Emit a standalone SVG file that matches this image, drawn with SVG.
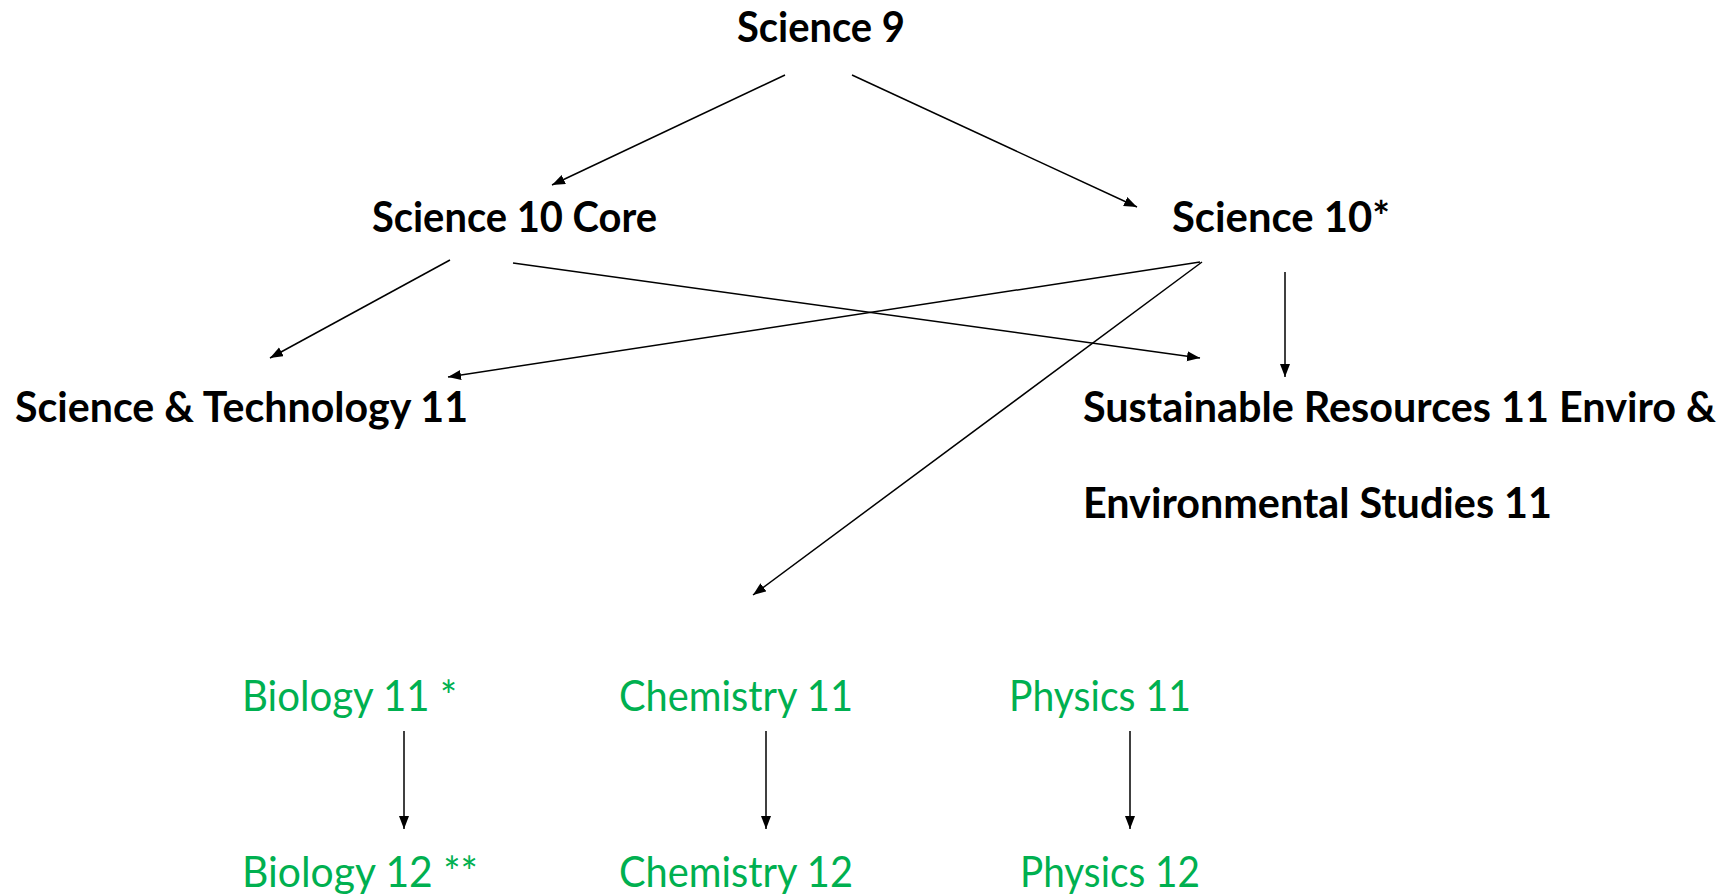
<svg xmlns="http://www.w3.org/2000/svg" width="1729" height="896" viewBox="0 0 1729 896">
<style>
.t{font-family:Lato,"Open Sans","Liberation Sans",sans-serif;font-size:42px}
.b{font-weight:bold;fill:#000}
.g{fill:#00B050}
.c line{stroke:#000;stroke-width:1.5;marker-end:url(#ah)}
</style>
<defs>
<marker id="ah" markerUnits="userSpaceOnUse" markerWidth="15" markerHeight="11" refX="13" refY="5" orient="auto" viewBox="0 0 15 11">
<path d="M0,0 L13,5 L0,10 z" fill="#000"/>
</marker>
</defs>
<rect width="1729" height="896" fill="#fff"/>
<g id="connectors" class="c">
<line x1="785" y1="75" x2="552" y2="185"/>
<line x1="852" y1="75" x2="1137" y2="207"/>
<line x1="450" y1="260" x2="270" y2="358"/>
<line x1="513" y1="263" x2="1200" y2="358"/>
<line x1="1200" y1="262" x2="448" y2="377"/>
<line x1="1202" y1="262" x2="753" y2="595"/>
<line x1="1285" y1="272" x2="1285" y2="377"/>
<line x1="404" y1="731" x2="404" y2="829"/>
<line x1="766" y1="731" x2="766" y2="829"/>
<line x1="1130" y1="731" x2="1130" y2="829"/>
</g>
<g id="science9"><text class="t b" x="737" y="42" textLength="168" lengthAdjust="spacingAndGlyphs">Science 9</text></g>
<g id="science10core"><text class="t b" x="372" y="232" textLength="285" lengthAdjust="spacingAndGlyphs">Science 10 Core</text></g>
<g id="science10"><text class="t b" x="1172" y="232" textLength="218" lengthAdjust="spacingAndGlyphs">Science 10*</text></g>
<g id="scitech11"><text class="t b" x="15" y="422" textLength="453" lengthAdjust="spacingAndGlyphs">Science &amp; Technology 11</text></g>
<g id="sustainable"><text class="t b" x="1083" y="422" textLength="633" lengthAdjust="spacingAndGlyphs">Sustainable Resources 11 Enviro &amp;</text><text class="t b" x="1083" y="518" textLength="469" lengthAdjust="spacingAndGlyphs">Environmental Studies 11</text></g>
<g id="biology11"><text class="t g" x="242" y="711" textLength="215" lengthAdjust="spacingAndGlyphs">Biology 11 *</text></g>
<g id="chemistry11"><text class="t g" x="619" y="711" textLength="234" lengthAdjust="spacingAndGlyphs">Chemistry 11</text></g>
<g id="physics11"><text class="t g" x="1009" y="711" textLength="182" lengthAdjust="spacingAndGlyphs">Physics 11</text></g>
<g id="biology12"><text class="t g" x="242" y="887" textLength="236" lengthAdjust="spacingAndGlyphs">Biology 12 **</text></g>
<g id="chemistry12"><text class="t g" x="619" y="887" textLength="234" lengthAdjust="spacingAndGlyphs">Chemistry 12</text></g>
<g id="physics12"><text class="t g" x="1020" y="887" textLength="180" lengthAdjust="spacingAndGlyphs">Physics 12</text></g>
</svg>
